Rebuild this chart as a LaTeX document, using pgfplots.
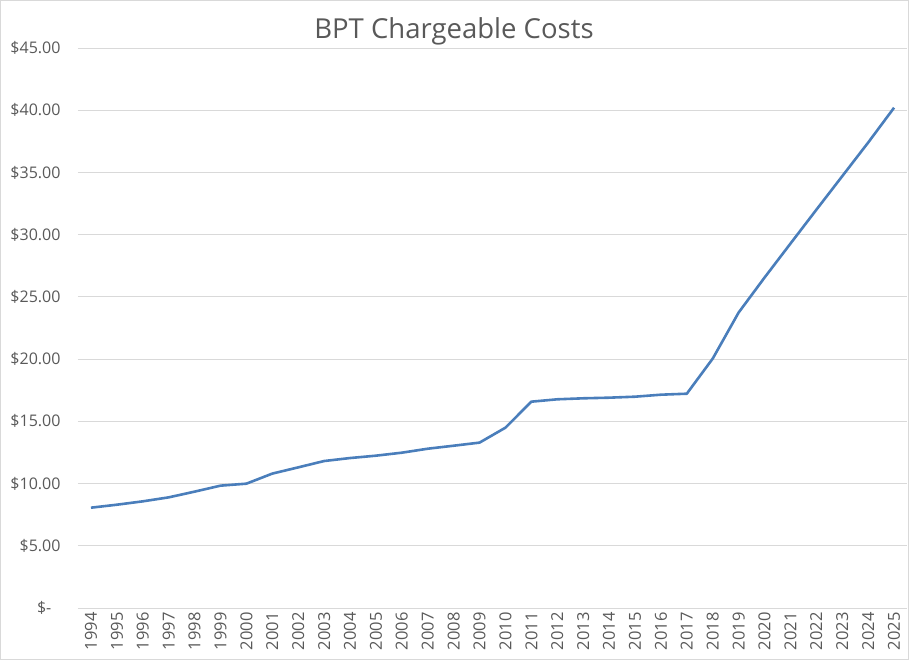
\documentclass[border=0pt]{standalone}
\usepackage{fontspec}
\setmainfont{Open Sans}
\usepackage{pgfplots}
\pgfplotsset{compat=1.18}

\definecolor{txtgray}{HTML}{595959}
\definecolor{gridgray}{HTML}{D9D9D9}
\definecolor{lineblue}{HTML}{4A7EBB}

\begin{document}
\begin{tikzpicture}
\begin{axis}[
    name=ax,
    scale only axis,
    width=829pt, height=560pt,
    xmin=-0.5, xmax=31.5,
    ymin=0, ymax=45,
    axis line style={draw=none},
    major tick length=0pt,
    ymajorgrids, grid style={gridgray, line width=0.8pt},
    ytick={0,5,...,45},
    yticklabels={\$-\phantom{0},\$5.00,\$10.00,\$15.00,\$20.00,\$25.00,\$30.00,\$35.00,\$40.00,\$45.00},
    y tick label style={font=\fontsize{16}{18}\selectfont, text=txtgray, xshift=-14pt},
    xtick={0,...,31},
    xticklabels={1994,1995,1996,1997,1998,1999,2000,2001,2002,2003,2004,2005,2006,2007,2008,2009,2010,2011,2012,2013,2014,2015,2016,2017,2018,2019,2020,2021,2022,2023,2024,2025},
    x tick label style={font=\fontsize{16.5}{18}\selectfont, text=txtgray, rotate=90, anchor=east, xshift=-1pt},
    clip=false,
]
\addplot[color=lineblue, line width=2.6pt, line join=round] coordinates {
    (0,8.06) (1,8.30) (2,8.57) (3,8.89) (4,9.35) (5,9.83) (6,9.99) (7,10.80)
    (8,11.30) (9,11.81) (10,12.05) (11,12.24) (12,12.48) (13,12.80) (14,13.04)
    (15,13.29) (16,14.49) (17,16.58) (18,16.77) (19,16.85) (20,16.90) (21,16.98)
    (22,17.14) (23,17.22) (24,20.04) (25,23.74) (26,26.55) (27,29.28) (28,32.00)
    (29,34.70) (30,37.40) (31,40.20)
};
\end{axis}
\node[anchor=base, text=txtgray, font=\fontsize{27.5}{30}\selectfont]
    at ([shift={(376pt,9pt)}]ax.north west) {BPT Chargeable Costs};
\pgfresetboundingbox
\path ([shift={(-78pt,-52pt)}]ax.south west) rectangle ([shift={(2pt,48pt)}]ax.north east);
\draw[gridgray, line width=0.8pt] ([shift={(-77.5pt,-51.5pt)}]ax.south west) rectangle ([shift={(1.5pt,47.5pt)}]ax.north east);
\end{tikzpicture}
\end{document}
